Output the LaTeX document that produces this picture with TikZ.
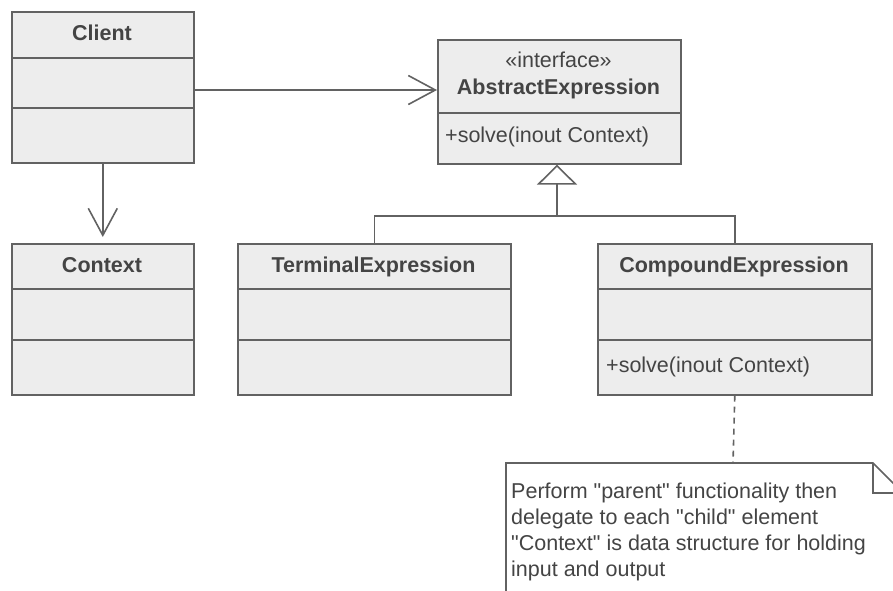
\documentclass[tikz,border=0pt]{standalone}
\usepackage{fontspec}
\setmainfont{Liberation Sans}[Ligatures=TeXOff]
\usetikzlibrary{arrows.meta}
\definecolor{boxfill}{RGB}{237,237,237}
\definecolor{edge}{RGB}{98,98,98}
\definecolor{ink}{RGB}{68,68,68}
\begin{document}
\begin{tikzpicture}[x=1pt,y=-1pt,
  umlbox/.style={draw=edge, fill=boxfill, line width=1.6pt, inner sep=0pt, anchor=north west},
  divider/.style={draw=edge, line width=1.6pt},
  title/.style={font=\fontsize{21.5}{26}\selectfont\bfseries, text=ink, anchor=base, inner sep=0pt},
  member/.style={font=\fontsize{21.5}{26}\selectfont, text=ink, anchor=base west, inner sep=0pt},
  link/.style={draw=edge, line width=1.6pt},
  assoc/.style={link, -{Straight Barb[length=27pt, width=29pt, line width=1.6pt]}},
  generalize/.style={link, -{Triangle[open, length=20pt, width=40pt, line width=1.6pt, fill=white]}},
  notelink/.style={link, dash pattern=on 6pt off 5pt}]

\useasboundingbox (0,0) rectangle (893,590);
\clip (0,0) rectangle (893,590);

% Client
\node[umlbox, minimum width=182pt, minimum height=151pt] (client) at (11,11) {};
\draw[divider] (11,58) -- (193,58);
\draw[divider] (11,108) -- (193,108);
\node[title] (clientT) at (102,40) {Client};

% Context
\node[umlbox, minimum width=182pt, minimum height=151pt] (ctx) at (11,243) {};
\draw[divider] (11,289) -- (193,289);
\draw[divider] (11,340) -- (193,340);
\node[title] (ctxT) at (102,272) {Context};

% TerminalExpression
\node[umlbox, minimum width=273pt, minimum height=151pt] (ter) at (237,243) {};
\draw[divider] (237,289) -- (510,289);
\draw[divider] (237,340) -- (510,340);
\node[title] (terT) at (373.5,272) {TerminalExpression};

% CompoundExpression
\node[umlbox, minimum width=274pt, minimum height=151pt] (cmp) at (597,243) {};
\draw[divider] (597,289) -- (871,289);
\draw[divider] (597,340) -- (871,340);
\node[title] (cmpT) at (734,272) {CompoundExpression};
\node[member] (cmpM) at (606,372) {+solve(inout Context)};

% AbstractExpression
\node[umlbox, minimum width=243pt, minimum height=124pt] (abs) at (437,39) {};
\draw[divider] (437,113) -- (680,113);
\node[title, font=\fontsize{21.5}{26}\selectfont] (absS) at (558.5,67) {«interface»};
\node[title] (absT) at (558.5,94) {AbstractExpression};
\node[member] (absM) at (445,142) {+solve(inout Context)};

% Associations
\coordinate (rowA) at (0,90);
\draw[assoc] (client.east |- rowA) -- (abs.west |- rowA);
\draw[assoc, shorten >=6pt] (client.south) -- (ctx.north);

% Generalization
\coordinate (fork) at (557,216);
\draw[link] (ter.north) |- (fork) -| (cmp.north);
\draw[generalize] (fork) -- (abs.south -| fork);

% Note
\coordinate (noteTop) at (733,463);
\draw[draw=edge, fill=white, line width=1.6pt]
  (506,600) -- (506,463) -- (873,463) -- (903,493) -- (903,600);
\draw[draw=edge, line width=1.6pt] (873,463) -- (873,493) -- (903,493);
\node[member, anchor=north west, align=left,
      font=\fontsize{21.5}{26}\selectfont] (note) at (511,482.3)
  {Perform "parent" functionality then\\
   delegate to each "child" element\\
   "Context" is data structure for holding\\
   input and output};
\draw[notelink] (cmp.south) -- (noteTop);
\end{tikzpicture}
\end{document}
